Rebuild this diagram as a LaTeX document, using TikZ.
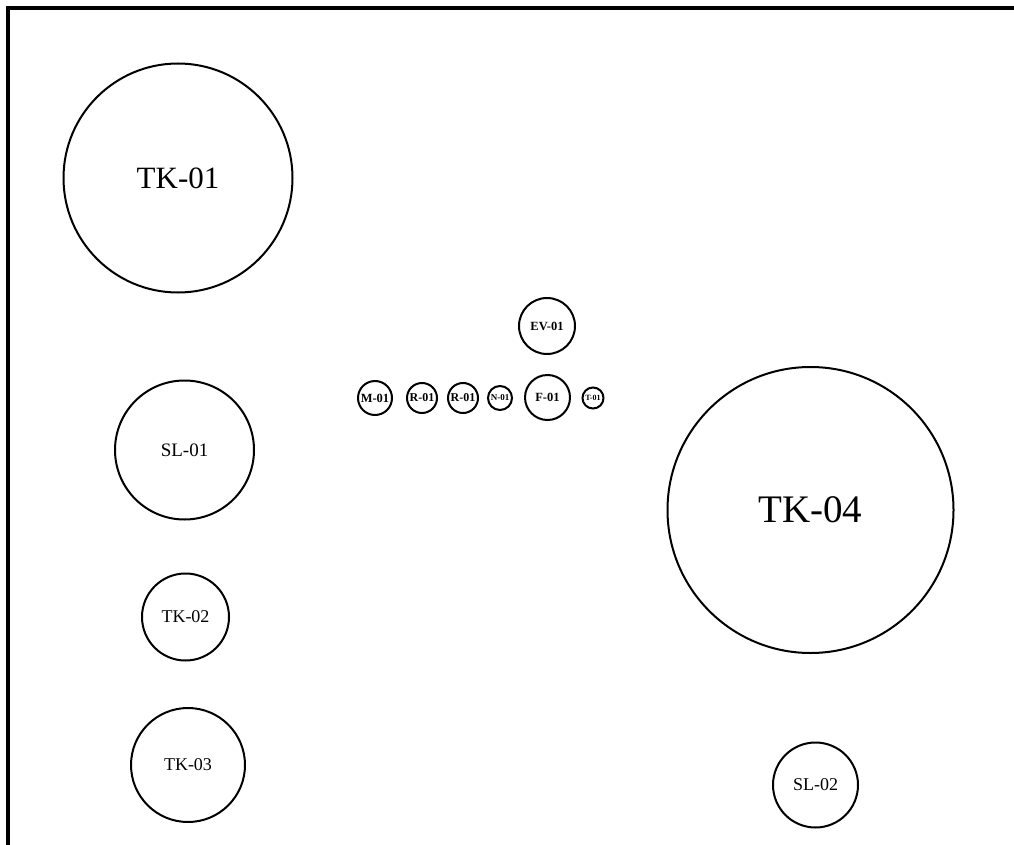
\documentclass[tikz,border=0pt]{standalone}
\usepackage{fontspec}
\setmainfont{Liberation Serif}
\begin{document}
\begin{tikzpicture}[x=1pt,y=-1pt,
  vessel/.style={circle,draw,line width=2pt,inner sep=0pt,align=center},
  frame/.style={line width=4pt}]
\useasboundingbox (0,0) rectangle (1014,845);
\coordinate (tl) at (8,8.5);
\coordinate (tr) at (1016,8.5);
\coordinate (bl) at (8,847);
\draw[frame] (tr) -- (tl) -- (bl);
\node[vessel,minimum size=229pt,font=\fontsize{31}{31}\selectfont] (tk01) at (178,178) {TK-01};
\node[vessel,minimum size=286pt,font=\fontsize{39}{39}\selectfont] (tk04) at (810.5,510) {TK-04};
\node[vessel,minimum size=139pt,font=\fontsize{19}{19}\selectfont] (sl01) at (184.5,450) {SL-01};
\node[vessel,minimum size=87pt,font=\fontsize{18}{18}\selectfont] (tk02) at (185.5,617) {TK-02};
\node[vessel,minimum size=114pt,font=\fontsize{18}{18}\selectfont] (tk03) at (188,765) {TK-03};
\node[vessel,minimum size=85pt,font=\fontsize{18}{18}\selectfont] (sl02) at (815.5,785) {SL-02};
\node[vessel,minimum size=56pt,font=\bfseries\fontsize{12.5}{12.5}\selectfont] (ev01) at (547,326) {EV-01};
\node[vessel,minimum size=34pt,font=\bfseries\fontsize{12.5}{12.5}\selectfont] (m01) at (375,398) {M-01};
\node[vessel,minimum size=30pt,font=\bfseries\fontsize{12}{12}\selectfont] (r01a) at (422,398) {R-01};
\node[vessel,minimum size=30pt,font=\bfseries\fontsize{12}{12}\selectfont] (r01b) at (463,398) {R-01};
\node[vessel,minimum size=24pt,font=\bfseries\fontsize{9}{9}\selectfont] (n01) at (500,398) {N-01};
\node[vessel,minimum size=45pt,font=\bfseries\fontsize{12.5}{12.5}\selectfont] (f01) at (547.5,397.5) {F-01};
\node[vessel,minimum size=21pt,font=\bfseries\fontsize{8}{8}\selectfont] (t01) at (593,398) {T-01};
\end{tikzpicture}
\end{document}
